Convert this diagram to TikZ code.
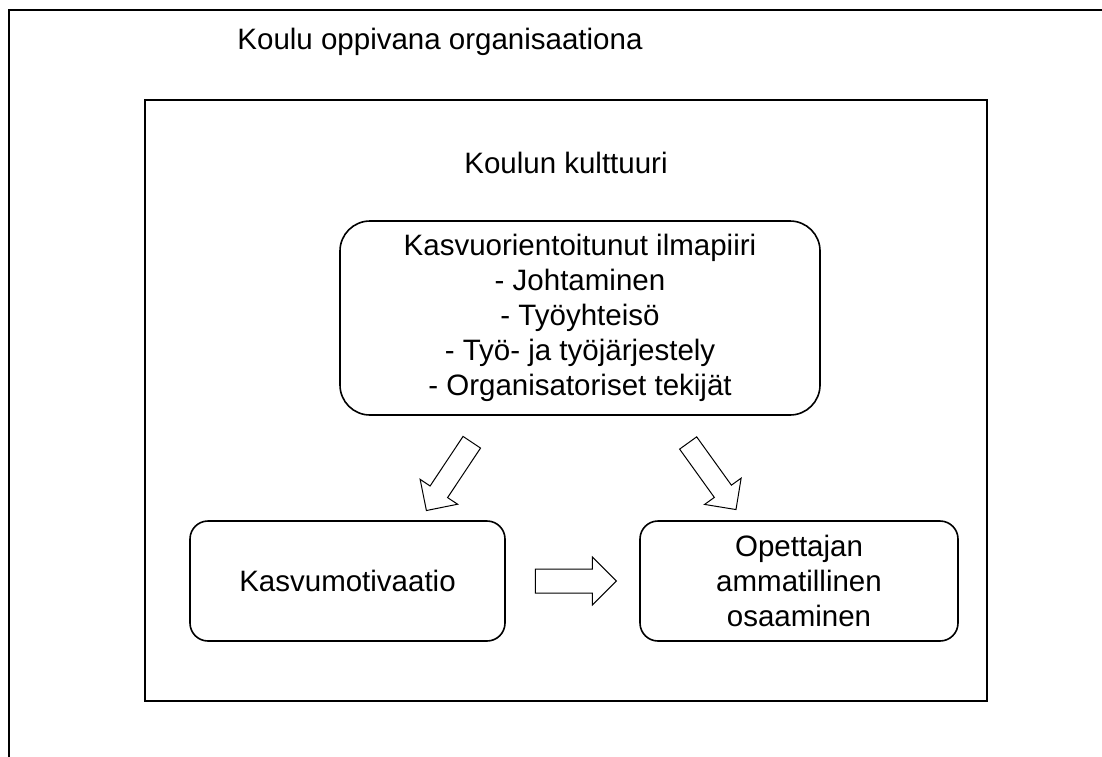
\documentclass[tikz,border=0pt]{standalone}
\usepackage{fontspec}
\setmainfont{Liberation Sans}
\usepackage{tikz}
\usetikzlibrary{positioning}
\usetikzlibrary{shapes.arrows}

\begin{document}
\begin{tikzpicture}[
                x=0.5pt, y=-0.5pt,
                box/.style = {
                    draw,
                    rounded corners = #1,
                    line width = 0.8pt,
                    align = center,
                    inner sep = 0pt,
                    font = \fontsize{14.75}{17.5}\selectfont
                },
                box/.default = 9pt,
                title/.style = {
                    font = \fontsize{14.75}{17.5}\selectfont
                },
                bigarrow/.style = {
                    draw,
                    single arrow,
                    line width = 0.5pt,
                    inner xsep = 0pt,
                    inner ysep = #1,
                    minimum height = 41pt,
                    single arrow head extend = 6pt
                },
                bigarrow/.default = 5pt
            ]
            \useasboundingbox (0,0) rectangle (1102,756);
            \clip (0,0) rectangle (1102,756);
            % 
            \draw[line width = 1pt] (9,790) -- (9,10) -- (1140,10);
            \draw[line width = 1pt] (145,100) rectangle (987,701);
            % 
            \node[title] (school) at (440,42) {Koulu oppivana organisaationa};
            \node[title] (culture) at (566,163) {Koulun kulttuuri};
            % 
            \node[box=15pt, minimum width = 240pt, minimum height = 97pt] (climate) at (580,318)
                {Kasvuorientoitunut ilmapiiri\\ - Johtaminen\\ - Työyhteisö\\ - Työ- ja työjärjestely\\ - Organisatoriset tekijät};
            % 
            \node[box, minimum width = 157.5pt, minimum height = 60pt] (motivation) at (347.5,581) {Kasvumotivaatio};
            \node[box, minimum width = 159pt, minimum height = 60pt] (skills) at (799,581)
                {Opettajan\\ ammatillinen\\ osaaminen};
            % 
            \node[bigarrow, rotate = 236.4] (a1) at (452,472) {};
            \node[bigarrow, rotate = -54.3] (a2) at (709,472) {};
            \node[bigarrow=5.75pt, minimum height = 40.5pt] (a3) [right=14.5pt of motivation] {};
            % 
        \end{tikzpicture}
\end{document}
